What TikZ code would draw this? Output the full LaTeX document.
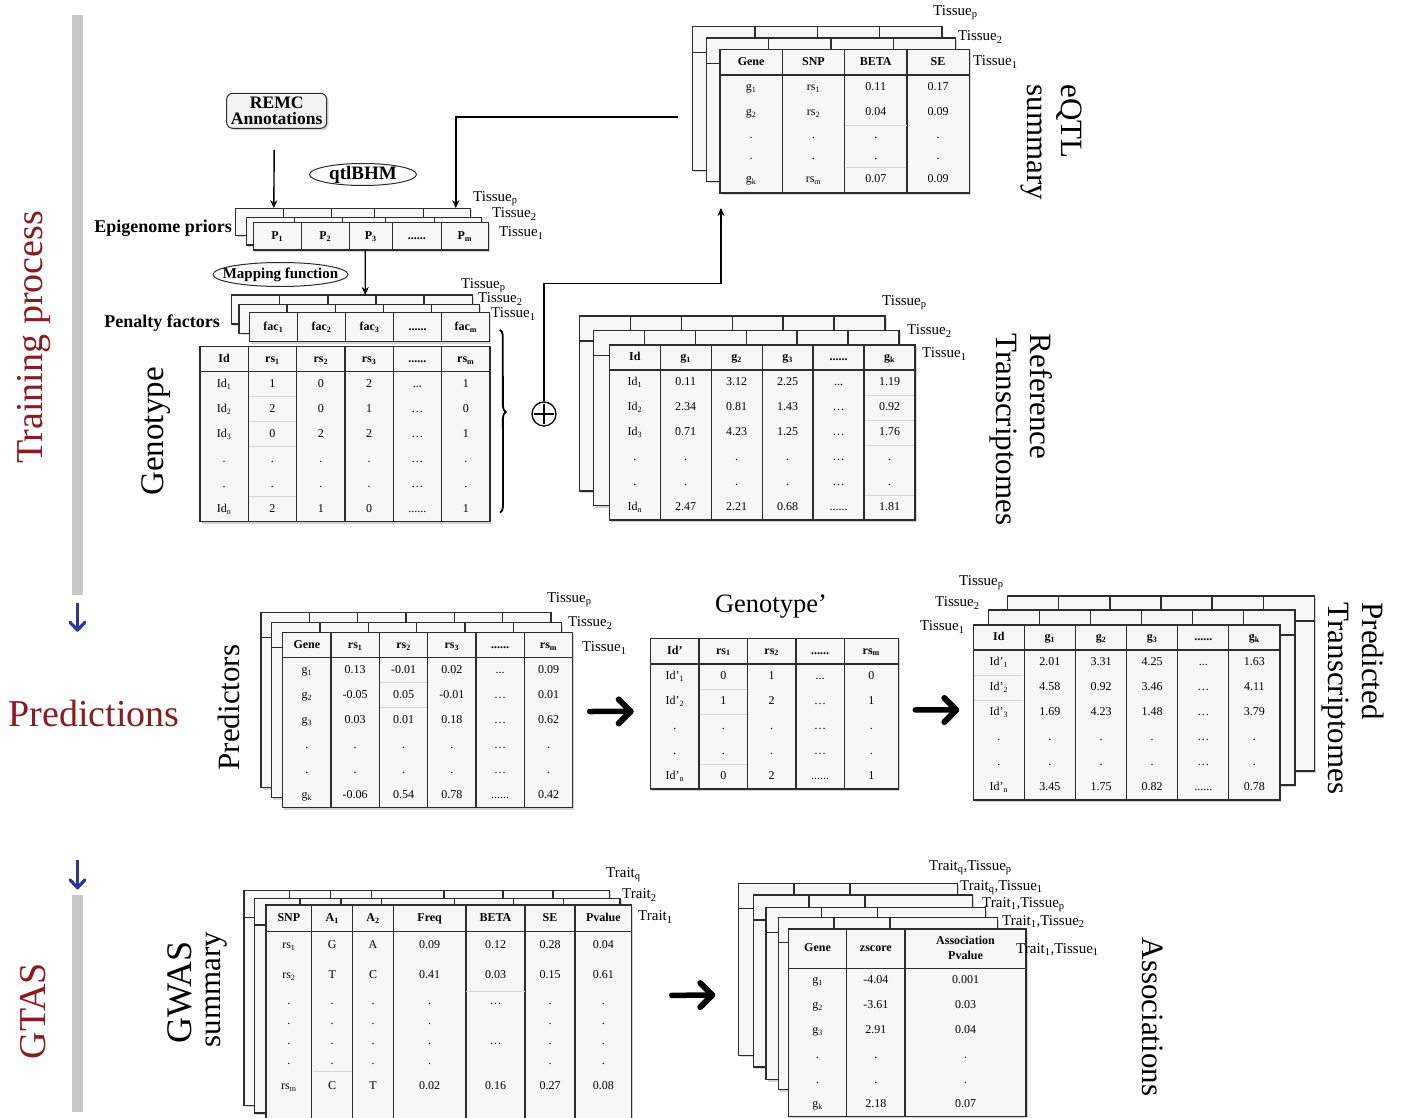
\documentclass[tikz,border=0pt]{standalone}
\usepackage{fontspec}
\setmainfont{Liberation Serif}
\usepackage{tikz}
\usetikzlibrary{matrix, positioning, calc, arrows.meta, shapes.geometric, shadows, decorations.pathreplacing}
\definecolor{tabline}{RGB}{45,45,45}
\definecolor{tabfill}{RGB}{246,247,247}
\definecolor{stagered}{RGB}{138,27,32}
\definecolor{stageblue}{RGB}{44,54,150}
\definecolor{bargray}{RGB}{201,201,201}
\newcommand{\ix}[1]{\textsubscript{#1}}
\newcommand{\tabfont}{\fontsize{12}{15}\selectfont}
\newcommand{\tisfont}{\fontsize{15}{17}\selectfont}
\newcommand{\bigfont}{\fontsize{31}{34}\selectfont}
\newcommand{\stagefont}{\fontsize{38}{40}\selectfont}
\newcommand{\tabgrid}[2]{%
  \draw[grid] (#1-1-1.south west) -- (#1-1-#2.south east);
  \foreach \cc in {2,...,#2} {\draw[grid] (#1-1-\cc.north west) -- (#1-1-\cc.north west |- #1.south);}}
\tikzset{
  tab/.style={matrix of nodes, nodes in empty cells, matrix anchor=north west,
    ampersand replacement=\&, draw=tabline, fill=tabfill, line width=1.3pt,
    drop shadow={shadow xshift=1.5pt, shadow yshift=-1.8pt, opacity=0.35},
    inner sep=0pt, outer sep=0pt, row sep=0pt, column sep=0pt,
    nodes={inner sep=0pt, outer sep=0pt, anchor=center, font=\tabfont,
      text height=8.5pt, text depth=2.5pt, minimum height=25pt},
    row 1/.style={nodes={font=\tabfont\bfseries}}},
  % back layers of a stack keep their grid but hide their texts
  layer/.code={\ifnum#1>1\relax\pgfkeysalso{nodes={execute at begin node={\setbox0=\hbox\bgroup},
    execute at end node={\egroup}}}\fi},
  colw/.style 2 args={column #1/.style={nodes={minimum width=#2}}},
  rowh/.style 2 args={row #1/.style={nodes={minimum height=#2}}},
  grid/.style={draw=tabline, line width=1.3pt},
  faint/.style={draw=black!16, line width=0.6pt, shorten <=1pt, shorten >=1pt},
  tis/.style={font=\tisfont, anchor=west, inner sep=0pt},
  side/.style={font=\bigfont, align=left, inner sep=0pt},
  stage/.style={font=\stagefont, text=stagered, inner sep=0pt},
  oval/.style={ellipse, draw=tabline, line width=1pt, fill=white, inner sep=0pt},
  arr/.style={draw=black, line width=1.4pt, -{Stealth[length=8pt, width=7pt]}},
  bigshaft/.style={draw=black, line width=5.5pt, line cap=round},
  bighead/.style={draw=black, line width=6pt, line cap=round, line join=round},
  blueshaft/.style={draw=stageblue, line width=3pt},
  bluehead/.style={draw=stageblue, line width=3.2pt, line cap=round, line join=round},
  bar/.style={fill=bargray, minimum width=11pt, inner sep=0pt},
}

\begin{document}
\begin{tikzpicture}[x=1pt, y=-1pt]
\useasboundingbox (0,0) rectangle (1401,1118);
\clip (0,0) rectangle (1401,1118);

% stages on the left
\node[bar, minimum height=580pt] (bar1) at (77.5,305) {};
\node[bar, minimum height=217pt] (bar2) at (77.5,1003.5) {};
\node[stage, rotate=90] (train) at (34,337.5) {Training process};
\node[stage] (predict) at (94,713) {Predictions};
\node[stage, rotate=90] (gtas) at (33,1011) {GTAS};
\draw[blueshaft] ($(bar1.south)+(0,8)$) -- ($(bar1.south)+(0,35)$) coordinate (downa);
\draw[bluehead] ($(downa)+(-7.5,-8)$) -- (downa) -- ($(downa)+(7.5,-8)$);
\draw[blueshaft] ($(bar2.north)+(0,-35)$) -- ($(bar2.north)+(0,-7)$) coordinate (downb);
\draw[bluehead] ($(downb)+(-7.5,-8)$) -- (downb) -- ($(downb)+(7.5,-8)$);

% eQTL summary
\foreach \dx/\dy/\ly in {-27.3/-22.6/3, -13.7/-11.3/2, 0/0/1}{
  \begin{scope}[shift={(\dx,\dy)}]
  \matrix[tab, layer=\ly, nodes={minimum width=62.3pt}, row 1/.append style={nodes={minimum height=25.7pt}},
    rowh={4}{21pt}, rowh={5}{21pt}, rowh={6}{26pt}] (eqtl\ly) at (720,49.3) {
    Gene \& SNP \& BETA \& SE \\
    g\ix{1} \& rs\ix{1} \& 0.11 \& 0.17 \\
    g\ix{2} \& rs\ix{2} \& 0.04 \& 0.09 \\
    . \& . \& . \& . \\
    . \& . \& . \& . \\
    g\ix{k} \& rs\ix{m} \& 0.07 \& 0.09 \\
  };
  \tabgrid{eqtl\ly}{4}
  \draw[faint] (eqtl\ly-4-3.north west) -- (eqtl\ly-4-3.north east)
    (eqtl\ly-6-3.north west) -- (eqtl\ly-6-3.north east);
  \end{scope}
}
\node[tis] (eqtl-tp) at (933,13) {Tissue\ix{p}};
\node[tis] (eqtl-t2) at (958,37) {Tissue\ix{2}};
\node[tis] (eqtl-t1) at (973,62) {Tissue\ix{1}};
\node[side, rotate=-90] (eqtllbl) at (1051,142.5) {eQTL\\summary};

% REMC, qtlBHM, epigenome priors
\node[draw=tabline, fill=gray!10, rounded corners=6pt, line width=1pt, minimum width=100pt,
  minimum height=35pt, inner sep=0pt, align=center, font=\fontsize{17.5}{16}\selectfont\bfseries,
  drop shadow={shadow xshift=2pt, shadow yshift=-2pt, opacity=0.3}] (remc) at (276.7,110.8) {REMC\\Annotations};
\node[oval, minimum width=107pt, minimum height=22pt] (qtl) at (363,174.5) {};
\node[font=\fontsize{19}{20}\selectfont\bfseries, inner sep=0pt] (qtltxt) at (qtl) {qtlBHM};
\foreach \dx/\dy/\ly in {-17.5/-14.5/3, -7/-5/2, 0/0/1}{
  \begin{scope}[shift={(\dx,\dy)}]
  \matrix[tab, layer=\ly, row 1/.append style={nodes={minimum height=27.3pt}}, colw={1}{48pt}, colw={2}{48pt},
    colw={3}{43pt}, colw={4}{49pt}, colw={5}{47pt}] (epi\ly) at (253.3,222.7) {
    P\ix{1} \& P\ix{2} \& P\ix{3} \& ...... \& P\ix{m} \\
  };
  \tabgrid{epi\ly}{5}
  \end{scope}
}
\node[tis] (epi-tp) at (473,199) {Tissue\ix{p}};
\node[tis] (epi-t2) at (492,214) {Tissue\ix{2}};
\node[tis] (epi-t1) at (499,233) {Tissue\ix{1}};
\node[font=\fontsize{18}{20}\selectfont\bfseries, anchor=east, inner sep=0pt] (epilbl) at (232,228) {Epigenome priors};

% mapping function, penalty factors
\node[oval, minimum width=135pt, minimum height=24pt] (mapfn) at (280.5,274.5) {};
\node[font=\fontsize{15}{16}\selectfont\bfseries, inner sep=0pt] (maptxt) at (mapfn) {Mapping function};
\foreach \dx/\dy/\ly in {-17.6/-17.7/3, -10.3/-8.4/2, 0/0/1}{
  \begin{scope}[shift={(\dx,\dy)}]
  \matrix[tab, layer=\ly, nodes={minimum width=48.1pt}, row 1/.append style={nodes={minimum height=29pt}}] (pen\ly) at (249.3,312.7) {
    fac\ix{1} \& fac\ix{2} \& fac\ix{3} \& ...... \& fac\ix{m} \\
  };
  \tabgrid{pen\ly}{5}
  \end{scope}
}
\node[tis] (pen-tp) at (461,286) {Tissue\ix{p}};
\node[tis] (pen-t2) at (478,299) {Tissue\ix{2}};
\node[tis] (pen-t1) at (491,314) {Tissue\ix{1}};
\node[font=\fontsize{18}{20}\selectfont\bfseries, anchor=east, inner sep=0pt] (penlbl) at (220,323) {Penalty factors};

% genotype
\matrix[tab, nodes={minimum width=48.33pt}] (geno) at (200,346.7) {
  Id \& rs\ix{1} \& rs\ix{2} \& rs\ix{3} \& ...... \& rs\ix{m} \\
  Id\ix{1} \& 1 \& 0 \& 2 \& ... \& 1 \\
  Id\ix{2} \& 2 \& 0 \& 1 \& \ldots \& 0 \\
  Id\ix{3} \& 0 \& 2 \& 2 \& \ldots \& 1 \\
  . \& . \& . \& . \& \ldots \& . \\
  . \& . \& . \& . \& \ldots \& . \\
  Id\ix{n} \& 2 \& 1 \& 0 \& ...... \& 1 \\
};
\tabgrid{geno}{6}
\foreach \rr in {2,3,4,6} {\draw[faint] (geno-\rr-2.south west) -- (geno-\rr-2.south east);}
\node[side, rotate=90, font=\fontsize{33}{35}\selectfont] (genolbl) at (156,431.5) {Genotype};
\draw[black, line width=1.8pt, decorate, decoration={brace, amplitude=6pt, aspect=0.45}]
  ($(pen1.south east)+(10,-12)$) -- ($(geno.south east)+(10,-9)$);

% reference transcriptomes
\foreach \dx/\dy/\ly in {-30/-29/3, -16/-14.3/2, 0/0/1}{
  \begin{scope}[shift={(\dx,\dy)}]
  \matrix[tab, layer=\ly, nodes={minimum width=50.95pt}] (ref\ly) at (609.3,345) {
    Id \& g\ix{1} \& g\ix{2} \& g\ix{3} \& ...... \& g\ix{k} \\
    Id\ix{1} \& 0.11 \& 3.12 \& 2.25 \& ... \& 1.19 \\
    Id\ix{2} \& 2.34 \& 0.81 \& 1.43 \& \ldots \& 0.92 \\
    Id\ix{3} \& 0.71 \& 4.23 \& 1.25 \& \ldots \& 1.76 \\
    . \& . \& . \& . \& \ldots \& . \\
    . \& . \& . \& . \& \ldots \& . \\
    Id\ix{n} \& 2.47 \& 2.21 \& 0.68 \& ...... \& 1.81 \\
  };
  \tabgrid{ref\ly}{6}
  \foreach \rr in {2,3,4,6} {\draw[faint] (ref\ly-\rr-6.south west) -- (ref\ly-\rr-6.south east);}
  \end{scope}
}
\node[tis] (ref-tp) at (882,303) {Tissue\ix{p}};
\node[tis] (ref-t2) at (907,331) {Tissue\ix{2}};
\node[tis] (ref-t1) at (922,354) {Tissue\ix{1}};
\node[side, rotate=-90] (reflbl) at (1021,429.5) {Reference\\Transcriptomes};

% plus and training connectors
\node[circle, draw=black, line width=1.3pt, fill=white, minimum size=24pt, inner sep=0pt] (plus) at (544,414) {};
\draw[line width=1.3pt] ($(plus.north)+(0,2.5)$) -- ($(plus.south)+(0,-2.5)$)
  ($(plus.west)+(2.5,0)$) -- ($(plus.east)+(-2.5,0)$);
\coordinate (eqtlout) at (678,117);
\draw[arr] ($(remc.south)+(-2.5,21)$) -- ($(epi3.north west)+(38,0)$);
\draw[arr] (eqtlout) -| ($(epi3.north east)+(-15,0)$);
\draw[arr] ($(epi1.south west)+(112,0)$) -- ($(pen3.north west)+(133.5,0)$);
\draw[arr] (plus.north) -- ++(0,-118) -| ($(eqtl1.south west)+(1,15)$);

% predictors
\foreach \dx/\dy/\ly in {-21.7/-20/3, -11/-10/2, 0/0/1}{
  \begin{scope}[shift={(\dx,\dy)}]
  \matrix[tab, layer=\ly, nodes={minimum width=48.33pt}] (pred\ly) at (282.7,632.7) {
    Gene \& rs\ix{1} \& rs\ix{2} \& rs\ix{3} \& ...... \& rs\ix{m} \\
    g\ix{1} \& 0.13 \& -0.01 \& 0.02 \& ... \& 0.09 \\
    g\ix{2} \& -0.05 \& 0.05 \& -0.01 \& \ldots \& 0.01 \\
    g\ix{3} \& 0.03 \& 0.01 \& 0.18 \& \ldots \& 0.62 \\
    . \& . \& . \& . \& \ldots \& . \\
    . \& . \& . \& . \& \ldots \& . \\
    g\ix{k} \& -0.06 \& 0.54 \& 0.78 \& ...... \& 0.42 \\
  };
  \tabgrid{pred\ly}{6}
  \foreach \rr in {2,3} {\draw[faint] (pred\ly-\rr-3.south west) -- (pred\ly-\rr-3.south east);}
  \end{scope}
}
\node[tis] (pred-tp) at (547,600) {Tissue\ix{p}};
\node[tis] (pred-t2) at (568,623) {Tissue\ix{2}};
\node[tis] (pred-t1) at (582,648) {Tissue\ix{1}};
\node[side, rotate=90] (predlbl) at (229,707.5) {Predictors};

% new genotype
\node[side, font=\fontsize{26.5}{28}\selectfont] (gtplbl) at (771,607) {Genotype'};
\matrix[tab, nodes={minimum width=48.4pt}, colw={5}{54pt}, row 1/.append style={nodes={minimum height=25.7pt}}] (gtp) at (650.7,638.3) {
  Id' \& rs\ix{1} \& rs\ix{2} \& ...... \& rs\ix{m} \\
  Id'\ix{1} \& 0 \& 1 \& ... \& 0 \\
  Id'\ix{2} \& 1 \& 2 \& \ldots \& 1 \\
  . \& . \& . \& \ldots \& . \\
  . \& . \& . \& \ldots \& . \\
  Id'\ix{n} \& 0 \& 2 \& ...... \& 1 \\
};
\tabgrid{gtp}{5}
\foreach \rr in {2,3,5} {\draw[faint] (gtp-\rr-2.south west) -- (gtp-\rr-2.south east);}

% predicted transcriptomes
\foreach \dx/\dy/\ly in {34.4/-29/3, 15/-15/2, 0/0/1}{
  \begin{scope}[shift={(\dx,\dy)}]
  \matrix[tab, layer=\ly, nodes={minimum width=51.1pt}] (prd\ly) at (973.3,625) {
    Id \& g\ix{1} \& g\ix{2} \& g\ix{3} \& ...... \& g\ix{k} \\
    Id'\ix{1} \& 2.01 \& 3.31 \& 4.25 \& ... \& 1.63 \\
    Id'\ix{2} \& 4.58 \& 0.92 \& 3.46 \& \ldots \& 4.11 \\
    Id'\ix{3} \& 1.69 \& 4.23 \& 1.48 \& \ldots \& 3.79 \\
    . \& . \& . \& . \& \ldots \& . \\
    . \& . \& . \& . \& \ldots \& . \\
    Id'\ix{n} \& 3.45 \& 1.75 \& 0.82 \& ...... \& 0.78 \\
  };
  \tabgrid{prd\ly}{6}
  \foreach \rr in {2,3} {\draw[faint] (prd\ly-\rr-1.south west) -- (prd\ly-\rr-1.south east);}
  \end{scope}
}
\node[tis] (prd-tp) at (959,583) {Tissue\ix{p}};
\node[tis] (prd-t2) at (935,603) {Tissue\ix{2}};
\node[tis] (prd-t1) at (920,627) {Tissue\ix{1}};
\node[side, rotate=-90] (prdlbl) at (1353,698.5) {Predicted\\Transcriptomes};
\draw[bigshaft] ($(pred1.east)+(17,-8.7)$) -- ($(gtp.west)+(-20,-2.2)$) coordinate (tipa);
\draw[bighead] ($(tipa)+(-12,-12)$) -- (tipa) -- ($(tipa)+(-12,12)$);
\draw[bigshaft] ($(gtp.east)+(17,-3.7)$) -- ($(prd1.west)+(-17,-2.5)$) coordinate (tipb);
\draw[bighead] ($(tipb)+(-12,-12)$) -- (tipb) -- ($(tipb)+(-12,12)$);

% GWAS summary
\foreach \dx/\dy/\ly in {-22/-14.3/3, -11.7/-6.7/2, 0/0/1}{
  \begin{scope}[shift={(\dx,\dy)}]
  \matrix[tab, layer=\ly, colw={1}{45.7pt}, colw={2}{41pt}, colw={3}{40.6pt}, colw={4}{72.7pt}, colw={5}{59pt},
    colw={6}{50pt}, colw={7}{56.7pt}, row 1/.append style={nodes={minimum height=26.7pt}},
    rowh={2}{28pt}, rowh={3}{32pt}, rowh={4}{20pt}, rowh={5}{20pt}, rowh={6}{20pt}, rowh={7}{20pt},
    rowh={8}{30pt}, rowh={9}{18pt}] (gwas\ly) at (266,905) {
    SNP \& A\ix{1} \& A\ix{2} \& Freq \& BETA \& SE \& Pvalue \\
    rs\ix{1} \& G \& A \& 0.09 \& 0.12 \& 0.28 \& 0.04 \\
    rs\ix{2} \& T \& C \& 0.41 \& 0.03 \& 0.15 \& 0.61 \\
    . \& . \& . \& . \& \ldots \& . \& . \\
    . \& . \& . \& . \& \& . \& . \\
    . \& . \& . \& . \& \ldots \& . \& . \\
    . \& . \& . \& . \& \& . \& . \\
    rs\ix{m} \& C \& T \& 0.02 \& 0.16 \& 0.27 \& 0.08 \\
    \& \& \& \& \& \& \\
  };
  \tabgrid{gwas\ly}{7}
  \draw[faint] (gwas\ly-3-5.south west) -- (gwas\ly-3-5.south east)
    (gwas\ly-8-2.north west) -- (gwas\ly-8-2.north east);
  \end{scope}
}
\node[tis] (gwas-tq) at (606,875) {Trait\ix{q}};
\node[tis] (gwas-t2) at (622,895) {Trait\ix{2}};
\node[tis] (gwas-t1) at (638,917) {Trait\ix{1}};
\node[side, rotate=90, font=\fontsize{36}{38}\selectfont] (gwaslbl) at (180,992.5) {GWAS};
\node[side, rotate=90] (gwassum) at (217,989.5) {summary};

% associations
\foreach \x/\y/\ly in {738.3/883.3/5, 753.3/895/4, 766/907.7/3, 778.3/917.7/2}{
  \matrix[tab, layer=\ly, colw={1}{55.7pt}, colw={2}{56pt}, colw={3}{107.7pt}, rowh={2}{147pt}] (assoc\ly) at (\x,\y) {
    Gene \& zscore \& Association Pvalue \\
    \& \& \\
  };
  \tabgrid{assoc\ly}{3}
}
\matrix[tab, colw={1}{58.4pt}, colw={2}{58.3pt}, colw={3}{121pt}, row 1/.append style={nodes={minimum height=39.3pt}},
  rowh={7}{23pt}] (assoc1) at (788.3,929) {
  Gene \& zscore \& {\begin{tabular}{@{}c@{}}Association\\Pvalue\end{tabular}} \\
  g\ix{1} \& -4.04 \& 0.001 \\
  g\ix{2} \& -3.61 \& 0.03 \\
  g\ix{3} \& 2.91 \& 0.04 \\
  . \& . \& . \\
  . \& . \& . \\
  g\ix{k} \& 2.18 \& 0.07 \\
};
\tabgrid{assoc1}{3}
\node[tis] (as-qp) at (929,868) {Trait\ix{q},Tissue\ix{p}};
\node[tis] (as-q1) at (960,888) {Trait\ix{q},Tissue\ix{1}};
\node[tis] (as-1p) at (982,905) {Trait\ix{1},Tissue\ix{p}};
\node[tis] (as-12) at (1002,922) {Trait\ix{1},Tissue\ix{2}};
\node[tis] (as-11) at (1016,950) {Trait\ix{1},Tissue\ix{1}};
\node[side, rotate=-90] (asclbl) at (1153,1017) {Associations};
\draw[bigshaft] ($(gwas1.east)+(40,-17)$) -- ($(assoc1.west)+(-76,-27.6)$) coordinate (tipc);
\draw[bighead] ($(tipc)+(-12,-12)$) -- (tipc) -- ($(tipc)+(-12,12)$);
\end{tikzpicture}
\end{document}
